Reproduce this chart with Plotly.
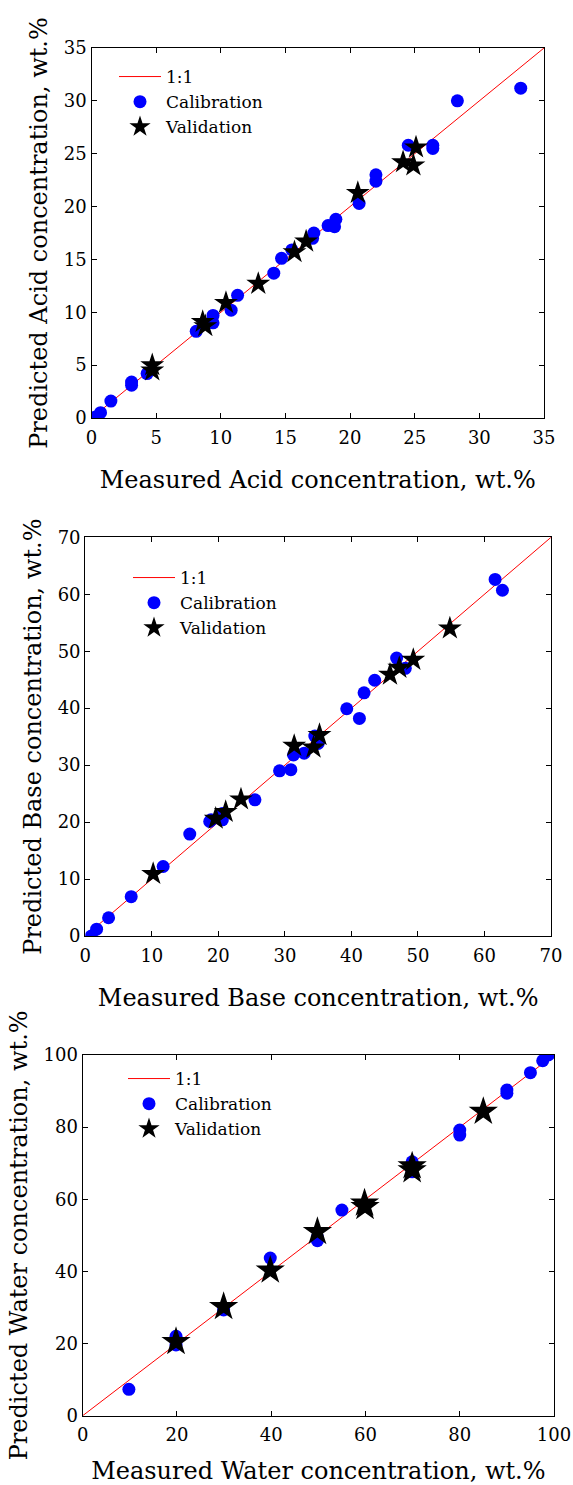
import plotly.graph_objects as go

# ---------------- data ----------------
acid_cal_x = [0.3, 0.7, 1.5, 3.1, 3.1, 4.3, 8.1, 9.4, 9.4, 10.8, 11.3, 14.1, 14.7, 15.5, 17.1, 17.2, 18.3, 18.8, 18.9, 20.7, 22.0, 22.0, 24.5, 26.4, 26.4, 28.3, 33.2]
acid_cal_y = [0.1, 0.5, 1.6, 3.1, 3.4, 4.2, 8.2, 9.0, 9.7, 10.2, 11.6, 13.7, 15.1, 15.9, 17.0, 17.5, 18.2, 18.1, 18.8, 20.3, 22.4, 23.0, 25.8, 25.5, 25.8, 30.0, 31.2]
acid_val_x = [4.7, 4.7, 8.6, 8.8, 10.4, 12.9, 15.7, 16.6, 20.6, 24.1, 24.9, 25.1]
acid_val_y = [4.5, 5.0, 9.1, 8.7, 10.9, 12.7, 15.7, 16.7, 21.3, 24.2, 23.9, 25.6]

base_cal_x = [0.9, 1.7, 3.5, 6.9, 11.7, 15.7, 18.7, 18.9, 20.6, 20.6, 25.5, 29.2, 30.9, 31.3, 32.9, 34.5, 35.0, 39.3, 41.2, 41.9, 43.5, 46.8, 48.1, 61.6, 62.7]
base_cal_y = [0.0, 1.2, 3.2, 6.9, 12.2, 17.9, 20.1, 20.4, 20.4, 21.5, 23.9, 29.0, 29.2, 31.8, 32.1, 35.1, 33.8, 39.9, 38.2, 42.7, 44.9, 48.8, 47.0, 62.6, 60.7]
base_val_x = [10.2, 19.6, 21.1, 23.4, 31.4, 34.3, 35.2, 45.8, 47.2, 49.3, 54.8]
base_val_y = [10.9, 20.6, 21.8, 24.0, 33.4, 33.1, 35.3, 45.9, 47.1, 48.5, 54.0]

water_cal_x = [9.8, 19.8, 19.8, 29.9, 39.8, 49.8, 49.8, 55.0, 69.9, 69.9, 80.0, 80.0, 90.0, 90.0, 95.0, 97.6, 98.8]
water_cal_y = [7.3, 19.6, 22.0, 29.3, 43.7, 48.5, 49.6, 57.0, 70.4, 67.6, 77.8, 79.2, 89.4, 90.3, 95.1, 98.4, 100.0]
water_val_x = [19.8, 29.9, 39.8, 49.8, 59.8, 59.9, 69.9, 69.9, 85.0]
water_val_y = [20.5, 30.2, 40.3, 51.0, 58.9, 57.9, 69.2, 68.1, 84.3]

acid_line = [0, 35]
base_line = [0, 70]
water_line = [0, 100]

acid_ticks = [0, 5, 10, 15, 20, 25, 30, 35]
base_ticks = [0, 10, 20, 30, 40, 50, 60, 70]
water_ticks = [0, 20, 40, 60, 80, 100]

FONT = "DejaVu Serif"
W, H = 573, 1485

fig = go.Figure()

panels = [
    dict(cx=acid_cal_x, cy=acid_cal_y, vx=acid_val_x, vy=acid_val_y, line=acid_line, ticks=acid_ticks,
         name="Acid", star=18, px=(91.5, 544), py=(48, 418), leg=(114, 59), xst=24),
    dict(cx=base_cal_x, cy=base_cal_y, vx=base_val_x, vy=base_val_y, line=base_line, ticks=base_ticks,
         name="Base", star=18, px=(85.3, 551), py=(537.3, 936), leg=(128, 560), xst=24),
    dict(cx=water_cal_x, cy=water_cal_y, vx=water_val_x, vy=water_val_y, line=water_line, ticks=water_ticks,
         name="Water", star=22, px=(82.7, 554), py=(1055, 1415.7), leg=(123, 1061), xst=25),
]

layout = dict(template="none", width=W, height=H, margin=dict(l=0, r=0, t=0, b=0, autoexpand=False),
              paper_bgcolor="white", plot_bgcolor="white",
              font=dict(family=FONT, color="black"))

for i, p in enumerate(panels, start=1):
    sfx = "" if i == 1 else str(i)
    xa, ya = "x" + sfx, "y" + sfx
    leg = "legend" + sfx
    fig.add_trace(go.Scatter(x=p["line"], y=p["line"], mode="lines", name="1:1",
                             line=dict(color="red", width=1), xaxis=xa, yaxis=ya, legend=leg))
    fig.add_trace(go.Scatter(x=p["cx"], y=p["cy"], mode="markers", name="Calibration",
                             marker=dict(color="#0000FF", size=13, symbol="circle", line=dict(width=0)),
                             xaxis=xa, yaxis=ya, legend=leg))
    fig.add_trace(go.Scatter(x=p["vx"], y=p["vy"], mode="markers", name="Validation",
                             marker=dict(color="black", size=p["star"], symbol="star", line=dict(width=0)),
                             xaxis=xa, yaxis=ya, legend=leg))
    rng = [p["line"][0], p["line"][1]]
    common = dict(range=rng, tickvals=p["ticks"], ticks="inside", ticklen=5, tickwidth=1,
                  tickcolor="black", automargin=False,
                  showline=True, linecolor="black", linewidth=1.3, mirror="ticks",
                  showgrid=False, zeroline=False, tickfont=dict(family=FONT, size=18))
    layout["xaxis" + sfx] = dict(common, domain=[p["px"][0] / W, p["px"][1] / W], anchor=ya,
                                 ticklabelstandoff=3,
                                 title=dict(text="Measured %s concentration, wt.%%" % p["name"],
                                            font=dict(family=FONT, size=24), standoff=p["xst"]))
    layout["yaxis" + sfx] = dict(common, domain=[1 - p["py"][1] / H, 1 - p["py"][0] / H], anchor=xa,
                                 title=dict(text="Predicted %s concentration, wt.%%" % p["name"],
                                            font=dict(family=FONT, size=24), standoff=9))
    layout[leg] = dict(x=p["leg"][0] / W, y=1 - p["leg"][1] / H, xanchor="left", yanchor="top",
                       bgcolor="rgba(0,0,0,0)", borderwidth=0, font=dict(family=FONT, size=17),
                       itemwidth=42)

layout["showlegend"] = True
fig.update_layout(**layout)
fig.write_html("out.html")
